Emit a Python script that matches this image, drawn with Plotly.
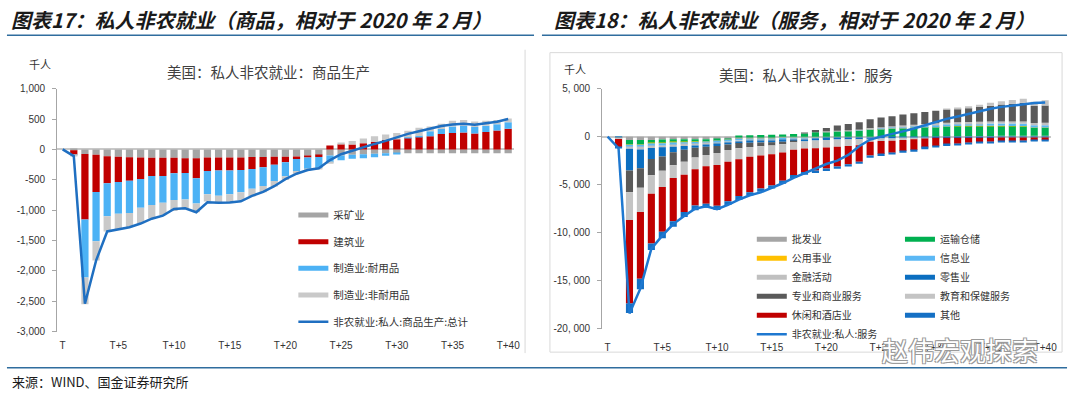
import plotly.graph_objects as go

# ---------------- data ----------------
periods = ["T", "T+1", "T+2", "T+3", "T+4", "T+5", "T+6", "T+7", "T+8", "T+9",
           "T+10", "T+11", "T+12", "T+13", "T+14", "T+15", "T+16", "T+17", "T+18", "T+19",
           "T+20", "T+21", "T+22", "T+23", "T+24", "T+25", "T+26", "T+27", "T+28", "T+29",
           "T+30", "T+31", "T+32", "T+33", "T+34", "T+35", "T+36", "T+37", "T+38", "T+39",
           "T+40"]
tick_show = ["T", "T+5", "T+10", "T+15", "T+20", "T+25", "T+30", "T+35", "T+40"]

# Goods-producing (thousand persons, relative to Feb 2020)
mining = [0, -15, -75, -90, -112, -122, -128, -133, -138, -138,
          -138, -144, -144, -133, -133, -133, -133, -125, -125, -120,
          -120, -117, -106, -95, -100, -100, -90, -80, -70, -65,
          -65, -65, -65, -65, -65, -65, -65, -65, -65, -65, -65]
construction = [0, -75, -1080, -612, -447, -415, -388, -356, -298, -298,
                -255, -245, -330, -223, -213, -213, -207, -196, -170, -133,
                -93, -43, -27, -32, 65, 85, 80, 101, 122, 154,
                165, 191, 207, 218, 255, 271, 277, 261, 287, 309, 340]
durable = [0, -10, -952, -808, -543, -521, -532, -473, -479, -441,
           -441, -436, -415, -383, -415, -394, -367, -325, -309, -266,
           -229, -197, -197, -181, -117, -80, -64, -64, -60, -40,
           -15, 10, 15, 80, 80, 106, 112, 106, 101, 106, 106]
nondurable = [0, -10, -441, -319, -250, -255, -234, -255, -223, -207,
              -181, -144, -144, -117, -128, -133, -128, -128, -100, -90,
              -62, -43, -16, -10, -20, 25, 58, 80, 96, 90,
              106, 106, 133, 80, 85, 96, 96, 90, 85, 69, 64]
goods_total = [0, -110, -2540, -1830, -1350, -1310, -1280, -1220, -1140, -1090,
               -980, -970, -1035, -870, -880, -875, -855, -765, -700, -606,
               -490, -400, -340, -310, -175, -80, -20, 40, 90, 140,
               200, 255, 300, 340, 385, 410, 420, 405, 430, 455, 500]

# Service-providing (thousand persons, relative to Feb 2020)
wholesale = [0, -20, -340, -340, -340, -300, -270, -270, -270, -270,
             -270, -240, -240, -230, -220, -210, -200, -190, -180, -170,
             -150, -140, -130, -120, -100, -80, -60, -40, -20, 0,
             20, 40, 50, 60, 70, 80, 90, 100, 100, 100, 100]
transport = [0, -30, -510, -510, -370, -370, -340, -300, -270, -250,
             -200, -120, 80, 150, 180, 200, 230, 270, 320, 450,
             500, 550, 600, 650, 750, 800, 850, 900, 950, 1000,
             1020, 1040, 1050, 1060, 1050, 1040, 1030, 1010, 990, 850, 850]
utilities = [0, 0, -5, -5, -5, -4, -4, -4, -4, -3,
             -3, -3, -3, -3, -3, -2, -2, -2, -2, -2,
             -1, -1, 0, 0, 1, 1, 2, 2, 3, 3,
             4, 4, 5, 5, 6, 6, 7, 7, 8, 8, 9]
information = [0, -20, -250, -280, -280, -260, -260, -240, -220, -200,
               -200, -180, -170, -150, -140, -130, -120, -110, -100, -60,
               -40, -20, 0, 20, 50, 80, 100, 120, 140, 160,
               180, 200, 210, 220, 230, 240, 240, 240, 240, 240, 240]
financial = [0, -10, -150, -200, -180, -170, -170, -150, -150, -130,
             -130, -120, -110, -100, -90, -80, -70, -60, -50, -30,
             50, 60, 70, 80, 100, 110, 120, 130, 140, 150,
             160, 170, 180, 190, 200, 210, 220, 220, 230, 230, 240]
retail = [0, -50, -2260, -1960, -1150, -950, -570, -400, -240, -200,
          -170, -150, -150, -150, -150, -150, -150, -140, -140, -150,
          -150, -140, -130, -130, -120, -120, -120, -110, -110, -110,
          -110, -110, -110, -110, -110, -110, -100, -100, -100, -100, -100]
professional = [0, -60, -2260, -2030, -1690, -1490, -1350, -1250, -1010, -850,
                -740, -570, -540, -450, -400, -350, -250, -50, 100, 250,
                350, 550, 650, 750, 900, 1000, 1050, 1150, 1200, 1250,
                1300, 1380, 1420, 1450, 1520, 1650, 1760, 1850, 1950, 1750, 1800]
education = [0, -60, -2900, -2530, -1930, -1690, -1350, -1350, -1220, -1180,
             -1250, -1220, -1150, -1000, -950, -900, -850, -800, -760, -800,
             -780, -750, -700, -650, -300, -260, -240, -200, -150, -80,
             0, 60, 120, 180, 240, 300, 340, 380, 420, 450, 550]
leisure = [0, -850, -8680, -6930, -5170, -4660, -4490, -3890, -3780, -3890,
           -4220, -4120, -3820, -3700, -3450, -3250, -2950, -2650, -2450, -2300,
           -2200, -2050, -1900, -1700, -1450, -1350, -1250, -1150, -1100, -950,
           -850, -700, -620, -530, -460, -420, -380, -350, -320, -300, -280]
other = [0, -90, -1010, -1110, -680, -680, -570, -500, -500, -440,
         -440, -400, -400, -350, -330, -320, -300, -290, -280, -270,
         -265, -250, -245, -230, -225, -205, -200, -185, -180, -170,
         -160, -150, -140, -130, -120, -110, -110, -100, -100, -100, -100]
services_total = [0, -1200, -18400, -15800, -11650, -10300, -9100, -8250, -7500, -7250,
                  -7550, -7100, -6550, -6100, -5800, -5350, -4850, -4300, -3800, -3300,
                  -2850, -2500, -1900, -1000, -300, 0, 250, 550, 850, 1200,
                  1550, 1850, 2100, 2380, 2650, 2900, 3100, 3250, 3400, 3500, 3560]

goods_ticks = [-3000, -2500, -2000, -1500, -1000, -500, 0, 500, 1000]
goods_ticktext = ["-3,000", "-2,500", "-2,000", "-1,500", "-1,000", "-500", "0", "500", "1,000"]
serv_ticks = [-20000, -15000, -10000, -5000, 0, 5000]
serv_ticktext = ["-20, 000", "-15, 000", "-10, 000", "-5, 000", "0", "5, 000"]

# ---------------- helpers ----------------
W, H = 1080, 398
def px(x):
    return x / W
def py(y):
    return 1 - y / H

CJK = "Noto Sans CJK SC"
NUM = "Liberation Sans"
TXT = "#333333"

fig = go.Figure()

def add_bars(y, name, color, xa, ya):
    fig.add_trace(go.Bar(x=periods, y=y, name=name, marker=dict(color=color, line=dict(width=0)),
                         xaxis=xa, yaxis=ya, showlegend=False, hoverinfo="skip"))

def add_proxy(name, color, xa, ya, legend, group):
    fig.add_trace(go.Scatter(x=[None], y=[None], mode="lines", name=name,
                             line=dict(color=color, width=5), xaxis=xa, yaxis=ya,
                             legend=legend, legendgroup=group, showlegend=True, hoverinfo="skip"))

# ---- left: goods ----
g_series = [
    ("采矿业", mining, "#A5A5A5"),
    ("建筑业", construction, "#C00000"),
    ("制造业:耐用品", durable, "#4CB2F5"),
    ("制造业:非耐用品", nondurable, "#C9C9C9"),
]
for n, v, c in g_series:
    add_bars(v, n, c, "x", "y")
for i, (n, v, c) in enumerate(g_series):
    add_proxy(n, c, "x", "y", "legend", f"g{i}")
fig.add_trace(go.Scatter(x=periods, y=goods_total, mode="lines", name="非农就业:私人:商品生产:总计",
                         line=dict(color="#1F6FC1", width=2.5), xaxis="x", yaxis="y",
                         legend="legend", legendgroup="gline", hoverinfo="skip"))

# ---- right: services ----
s_series = [
    ("批发业", wholesale, "#A5A5A5", "legend2"),
    ("运输仓储", transport, "#00B050", "legend3"),
    ("公用事业", utilities, "#FFC000", "legend2"),
    ("信息业", information, "#5BB8F5", "legend3"),
    ("金融活动", financial, "#C0C0C0", "legend2"),
    ("零售业", retail, "#0B6EC0", "legend3"),
    ("专业和商业服务", professional, "#5A5A5A", "legend2"),
    ("教育和保健服务", education, "#C4C4C4", "legend3"),
    ("休闲和酒店业", leisure, "#C00000", "legend2"),
    ("其他", other, "#1570C4", "legend3"),
]
for n, v, c, lg in s_series:
    add_bars(v, n, c, "x2", "y2")
for i, (n, v, c, lg) in enumerate(s_series):
    add_proxy(n, c, "x2", "y2", lg, f"s{i}")
fig.add_trace(go.Scatter(x=periods, y=services_total, mode="lines", name="非农就业:私人:服务",
                         line=dict(color="#1E78D0", width=2.5), xaxis="x2", yaxis="y2",
                         legend="legend2", legendgroup="sline", hoverinfo="skip"))

# ---------------- axes ----------------
xcommon = dict(type="category", categoryorder="array", categoryarray=periods,
               range=[-0.5, 40.5], showgrid=False, showline=False, zeroline=False,
               ticks="", tickmode="array", tickvals=tick_show, ticktext=tick_show,
               tickfont=dict(family=NUM, size=10, color=TXT), fixedrange=True)
ycommon = dict(showgrid=False, zeroline=True, zerolinecolor="#C8C8C8", zerolinewidth=1.5,
               showline=True, linecolor="#A6A6A6", linewidth=1, ticks="outside", ticklen=4,
               tickcolor="#A6A6A6", tickmode="array",
               tickfont=dict(family=NUM, size=10, color=TXT), fixedrange=True)

fig.update_layout(
    width=W, height=H, margin=dict(l=0, r=0, t=0, b=0),
    paper_bgcolor="white", plot_bgcolor="rgba(0,0,0,0)",
    barmode="relative", bargap=0.35,
    xaxis=dict(domain=[px(57.4), px(516.6)], anchor="y", ticklabelstandoff=6, **xcommon),
    yaxis=dict(domain=[py(336), py(86)], anchor="x", range=[-3000, 1000],
               tickvals=goods_ticks, ticktext=goods_ticktext, ticklabelstandoff=5, **ycommon),
    xaxis2=dict(domain=[px(605.5), px(1056.5)], anchor="y2", ticklabelstandoff=11, **xcommon),
    yaxis2=dict(domain=[py(333), py(86)], anchor="x2", range=[-20000, 5000],
                tickvals=serv_ticks, ticktext=serv_ticktext, ticklabelstandoff=5, **ycommon),
    showlegend=True,
    legend=dict(x=px(295), y=py(201), xanchor="left", yanchor="top", bgcolor="rgba(0,0,0,0)",
                font=dict(family=CJK, size=10.5, color=TXT), tracegroupgap=7.7, itemwidth=30,
                traceorder="grouped"),
    legend2=dict(x=px(756), y=py(226), xanchor="left", yanchor="top", bgcolor="rgba(0,0,0,0)",
                 font=dict(family=CJK, size=10, color=TXT), tracegroupgap=0, itemwidth=30,
                 traceorder="grouped"),
    legend3=dict(x=px(905), y=py(226), xanchor="left", yanchor="top", bgcolor="rgba(0,0,0,0)",
                 font=dict(family=CJK, size=10, color=TXT), tracegroupgap=0, itemwidth=30,
                 traceorder="grouped"),
)

# ---------------- decorations ----------------
line_col = "#2F6D9E"
shapes = [
    dict(type="line", xref="paper", yref="paper", x0=px(7), x1=px(537), y0=py(31), y1=py(31),
         line=dict(color=line_col, width=1.5)),
    dict(type="line", xref="paper", yref="paper", x0=px(545), x1=px(1073), y0=py(31), y1=py(31),
         line=dict(color=line_col, width=1.5)),
    dict(type="line", xref="paper", yref="paper", x0=px(7), x1=px(1073), y0=py(373), y1=py(373),
         line=dict(color=line_col, width=1.5)),
    dict(type="line", xref="paper", yref="paper", x0=px(528), x1=px(528), y0=py(46), y1=py(358),
         line=dict(color="#D9D9D9", width=1)),
    dict(type="rect", xref="paper", yref="paper", x0=px(553), x1=px(1068), y0=py(357), y1=py(49),
         line=dict(color="#D9D9D9", width=1)),
]
fig.update_layout(shapes=shapes)

def ann(text, x, y, size, color=TXT, family=CJK, xanchor="left", **kw):
    fig.add_annotation(text=text, x=px(x), y=py(y), xref="paper", yref="paper",
                       xanchor=xanchor, yanchor="middle", showarrow=False,
                       font=dict(family=family, size=size, color=color, **kw))

ann("<b><i>图表17：私人非农就业（商品，相对于 2020 年 2 月）</i></b>", 9, 15, 20, color="#1A1A1A")
ann("<b><i>图表18：私人非农就业（服务，相对于 2020 年 2 月）</i></b>", 555, 15, 20, color="#1A1A1A")
ann("千人", 40, 61, 11, xanchor="center")
ann("千人", 578, 66, 11, xanchor="center")
ann("美国：私人非农就业：商品生产", 270, 68, 14.5, color="#404040", xanchor="center")
ann("美国：私人非农就业：服务", 810, 71, 14.5, color="#404040", xanchor="center")
ann("来源：WIND、国金证券研究所", 10, 387, 13, color="#1A1A1A")
ann("赵伟宏观探索", 965, 354, 26, color="white", xanchor="center",
    shadow="1px 1px 0 #9A9A9A, -1px -1px 0 #9A9A9A, 1px -1px 0 #9A9A9A, -1px 1px 0 #9A9A9A")

fig.write_html("out.html", config={"displayModeBar": False},
               post_script="document.body.style.margin='0';")
